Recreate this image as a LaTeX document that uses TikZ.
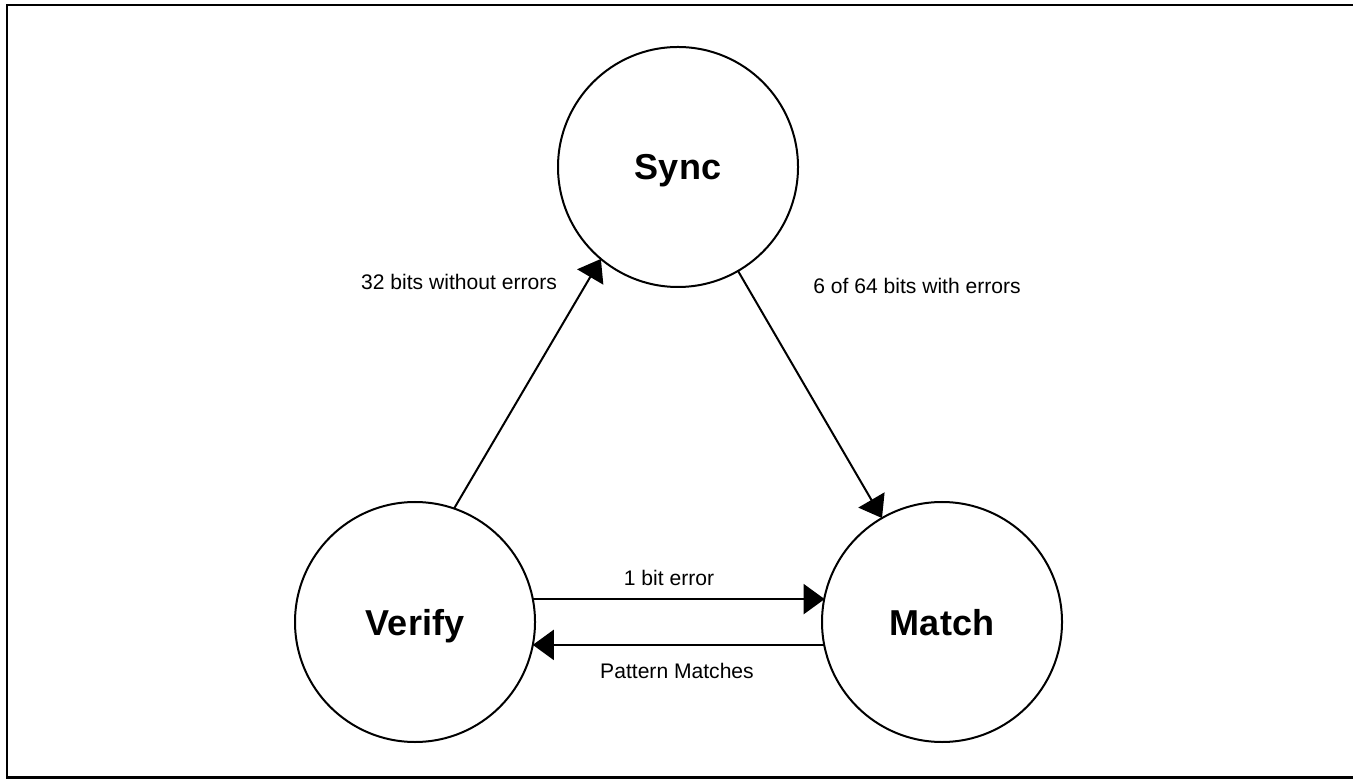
\documentclass[tikz,border=0pt]{standalone}
\usepackage{fontspec}
\setmainfont{Liberation Sans}
\usetikzlibrary{arrows.meta,positioning}

\begin{document}
\begin{tikzpicture}[
        state/.style={circle, draw, line width=0.04cm, minimum size=4.8cm, inner sep=0pt, outer sep=0pt, font=\fontsize{20.5}{24}\selectfont\bfseries, text depth=0pt},
        lbl/.style={font=\fontsize{12}{14}\selectfont, inner sep=1pt},
        arrow/.style={-{Triangle[length=0.42cm, width=0.6cm]}, line width=0.04cm}]

        \useasboundingbox (0,0) rectangle (27.06,15.56);

        % Frame
        \draw[line width=0.045cm] (28,15.46) -- (0.14,15.46) -- (0.14,0.01) -- (28,0.01);

        % States
        \node[state] (sync) at (13.56, 12.22) {Sync};
        \node[state] (verify) at (8.30, 3.12) {Verify};
        \node[state] (match) at (18.84, 3.12) {Match};

        % Transitions
        \draw[arrow] (verify.71) -- (sync.230);
        \draw[arrow] (sync.300) -- (match.120);
        \draw[arrow] (verify.11.5) -- (verify.11.5 -| match.168.5);
        \draw[arrow] (match.191.5) -- (match.191.5 -| verify.-11.5);

        % Labels
        \node[lbl] (l32) at (9.18, 9.92) {32 bits without errors};
        \node[lbl] (l64) at (18.34, 9.84) {6 of 64 bits with errors};
        \node[lbl] (lone) at (13.38, 4.00) {1 bit error};
        \node[lbl] (lpat) at (13.54, 2.14) {Pattern Matches};
    \end{tikzpicture}
\end{document}
